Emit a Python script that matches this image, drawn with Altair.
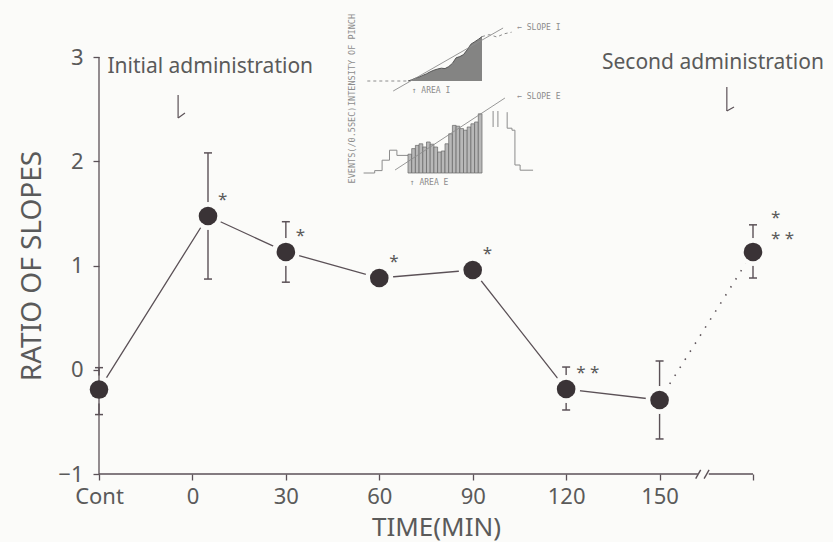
import altair as alt
import pandas as pd

# ---------------- main series ----------------
time_min = [-30, 5, 30, 60, 90, 120, 150, 180]
ratio = [-0.19, 1.475, 1.13, 0.88, 0.957, -0.185, -0.29, 1.13]
err_high = [0.02, 2.08, 1.42, 0.95, 1.03, 0.026, 0.084, 1.39]
err_low = [-0.43, 0.87, 0.84, 0.81, 0.89, -0.386, -0.664, 0.88]
sig_near = ["", "*", "*", "*", "*", "* *", "", ""]
sig_second = ["", "", "", "", "", "", "", "*\n* *"]

x_tick_values = [-30, 0, 30, 60, 90, 120, 150, 180]
x_tick_labels = ["Cont", "0", "30", "60", "90", "120", "150", ""]
y_tick_values = [-1, 0, 1, 2, 3]
x_domain = [-30, 180]
y_domain = [-1, 3]

# axis line with a break
axis_seg_x1 = [-30, 165.8]
axis_seg_x2 = [162.3, 180]
break_x1 = [161.6, 164.3]
break_x2 = [163.2, 165.9]
break_y1 = [-1.045, -1.045]
break_y2 = [-0.96, -0.96]

# annotations
ann_text = ["Initial administration", "Second administration"]
ann_x = [-27.3, 131.5]
ann_y = [2.905, 2.94]
arrow_x = [-4.6, 171.6]
arrow_top = [2.635, 2.712]
arrow_bot = [2.415, 2.482]
barb_x = [-2.4, 173.9]
barb_y = [2.463, 2.52]

# ---------------- inset (schematic) ----------------
pinch_t = [0, 1, 2, 3, 4, 5, 6, 7, 8, 9, 10, 11, 12, 13, 14, 15, 16, 17, 18, 19, 20]
pinch_i = [0, 0.3, 0.7, 1.0, 1.4, 1.8, 2.3, 2.7, 3.0, 3.2, 3.1, 3.6, 4.4, 5.8, 6.1,
           6.6, 7.8, 9.2, 9.8, 10.4, 11.1]
pinch_pre_t = [-11, 0]
pinch_pre_i = [0, 0]
pinch_post_t = [20, 22, 24, 26, 28]
pinch_post_i = [11.1, 11.6, 11.0, 11.8, 12.2]
slope_i_t = [-4, 25.7]
slope_i_v = [-2.5, 13.25]

event_t = list(range(20))
event_n = [4.7, 6.1, 6.9, 7.3, 6.5, 7.75, 7.2, 6.5, 5.25, 5.5, 7.3, 9.8, 11.9, 11.7,
           11.1, 10.7, 11.5, 12.3, 12.75, 14.8]
event_pre_t = [-12, -9, -7, -5, -3, 0]
event_pre_n = [0, 0.6, 3.2, 5.7, 4.4, 4.4]
event_post_t = [26.8, 26.8, 28.1, 28.9, 30.3, 33.8]
event_post_n = [15.2, 11.2, 10.7, 2.0, 0.7, 0.7]
spike_t = [23.0, 24.3]
spike_top = [15.5, 15.5]
spike_bot = [11.5, 11.5]
slope_e_t = [-3.5, 26.2]
slope_e_v = [0.75, 18.75]

inset_top_label = ["INTENSITY OF PINCH"]
inset_top_label_t = [-15.1]
inset_top_label_v = [5.25]
inset_top_notes = ["\u2190 SLOPE I", "\u2191 AREA I"]
inset_top_notes_t = [29.5, 1.0]
inset_top_notes_v = [13.25, -2.5]
inset_bot_label = ["EVENTS(/0.5SEC)"]
inset_bot_label_t = [-15.1]
inset_bot_label_v = [7.0]
inset_bot_notes = ["\u2190 SLOPE E", "\u2191 AREA E"]
inset_bot_notes_t = [29.5, 0.5]
inset_bot_notes_v = [19.0, -2.5]

# ---------------- styling ----------------
BG = "#fbfbf9"
LINE = "#5b5157"
DOT = "#3a3336"
TEXT = "#5a5a5a"
INSET = "#8c8c8c"
FONT = "Noto Sans"
MONO = "DejaVu Sans Mono"

label_expr = " : ".join(
    f"datum.value == {v} ? '{l}'" for v, l in zip(x_tick_values, x_tick_labels)
) + " : datum.label"

axis_x = alt.Axis(
    values=x_tick_values, labelExpr=label_expr, domain=False, grid=False,
    tickSize=6, tickColor=LINE, tickWidth=1.3, labelFontSize=22, labelColor=TEXT,
    labelFont=FONT, labelPadding=6, labelOverlap=False, labelFlush=False,
    title="TIME(MIN)", titleFontSize=26, titleFontWeight="normal", titleColor=TEXT,
    titleFont=FONT, titleX=337, titleY=53, titleAlign="center", titleBaseline="middle",
)
axis_y = alt.Axis(
    values=y_tick_values, domain=False, grid=False, tickSize=6, tickColor=LINE,
    tickWidth=1.3, labelFontSize=22, labelColor=TEXT, labelFont=FONT, labelPadding=10,
    title="RATIO OF SLOPES", titleFontSize=28, titleFontWeight="normal",
    titleColor=TEXT, titleFont=FONT, titleX=-67, titleY=208.5, titleAngle=270,
    titleAlign="center", titleBaseline="middle",
)

xs = alt.Scale(domain=x_domain, nice=False, zero=False)
ys = alt.Scale(domain=y_domain, nice=False, zero=False)


def X(f):
    return alt.X(f, type="quantitative", scale=xs, axis=axis_x)


def Y(f):
    return alt.Y(f, type="quantitative", scale=ys, axis=axis_y)


df = pd.DataFrame({
    "time": time_min, "ratio": ratio, "hi": err_high, "lo": err_low,
    "sig": sig_near, "sig2": sig_second,
})
base = alt.Chart(df)

line_solid = base.transform_filter(alt.datum.time <= 150).mark_line(
    color=LINE, strokeWidth=1.3).encode(x=X("time"), y=Y("ratio"))
line_dot = base.transform_filter(alt.datum.time >= 150).mark_line(
    color=LINE, strokeWidth=1.6, strokeDash=[1.5, 8]).encode(x=X("time"), y=Y("ratio"))
err_rule = base.mark_rule(color=LINE, strokeWidth=1.4).encode(
    x=X("time"), y=Y("lo"), y2="hi")
cap_hi = base.mark_tick(orient="horizontal", size=8, thickness=1.5, color=LINE,
                        opacity=1).encode(x=X("time"), y=Y("hi"))
cap_lo = base.mark_tick(orient="horizontal", size=8, thickness=1.5, color=LINE,
                        opacity=1).encode(x=X("time"), y=Y("lo"))
halo = base.mark_circle(size=780, color=BG, opacity=1).encode(x=X("time"), y=Y("ratio"))

ydom = alt.Chart(pd.DataFrame({"x": [x_domain[0]], "y": [y_domain[0]], "y2": [y_domain[1]]})
                 ).mark_rule(color=LINE, strokeWidth=1.3).encode(x=X("x"), y=Y("y"), y2="y2")
xdom = alt.Chart(pd.DataFrame({"x": axis_seg_x1, "x2": axis_seg_x2, "y": [y_domain[0]] * 2})
                 ).mark_rule(color=LINE, strokeWidth=1.3).encode(x=X("x"), x2="x2", y=Y("y"))
brk = alt.Chart(pd.DataFrame({"x": break_x1, "x2": break_x2, "y": break_y1, "y2": break_y2})
                ).mark_rule(color=LINE, strokeWidth=1.4).encode(
    x=X("x"), x2="x2", y=Y("y"), y2="y2")

points = base.mark_circle(size=346, color=DOT, opacity=1).encode(x=X("time"), y=Y("ratio"))
stars = base.mark_text(align="left", baseline="middle", dx=10, dy=-16, fontSize=17,
                       color=TEXT, font=FONT).encode(x=X("time"), y=Y("ratio"), text="sig")
stars2 = base.mark_text(align="left", baseline="middle", dx=18, dy=-34, fontSize=17,
                        color=TEXT, font=FONT, lineBreak="\n", lineHeight=21).encode(
    x=X("time"), y=Y("ratio"), text="sig2")

ann = alt.Chart(pd.DataFrame({"t": ann_text, "x": ann_x, "y": ann_y})).mark_text(
    align="left", baseline="middle", fontSize=21, color=TEXT, font=FONT).encode(
    x=X("x"), y=Y("y"), text="t")
arr = alt.Chart(pd.DataFrame({"x": arrow_x, "y": arrow_top, "y2": arrow_bot})).mark_rule(
    color=LINE, strokeWidth=1.2).encode(x=X("x"), y=Y("y"), y2="y2")
barb = alt.Chart(pd.DataFrame({"x": arrow_x, "y": arrow_bot, "x2": barb_x, "y2": barb_y})
                 ).mark_rule(color=LINE, strokeWidth=1.2).encode(
    x=X("x"), x2="x2", y=Y("y"), y2="y2")

main = alt.layer(line_solid, line_dot, err_rule, cap_hi, cap_lo, halo, ydom, xdom, brk,
                 points, stars, stars2, ann, arr, barb)

# ---------------- inset layers ----------------
xi = alt.Scale(domain=[-83.51, 93.24], nice=False, zero=False)
yt = alt.Scale(domain=[-98.25, 6], nice=False, zero=False)
yb = alt.Scale(domain=[-75.25, 29], nice=False, zero=False)


def XI(f):
    return alt.X(f, type="quantitative", scale=xi, axis=None)


def YT(f):
    return alt.Y(f, type="quantitative", scale=yt, axis=None)


def YB(f):
    return alt.Y(f, type="quantitative", scale=yb, axis=None)


pinch_area = alt.Chart(pd.DataFrame({"t": pinch_t, "v": pinch_i})).mark_area(
    color="#6e6e6e", opacity=0.85, line={"color": "#555", "strokeWidth": 1}).encode(
    x=XI("t"), y=YT("v"), y2=alt.datum(0))
pinch_pre = alt.Chart(pd.DataFrame({"t": pinch_pre_t, "v": pinch_pre_i})).mark_line(
    color=INSET, strokeWidth=1, strokeDash=[3, 3]).encode(x=XI("t"), y=YT("v"))
pinch_post = alt.Chart(pd.DataFrame({"t": pinch_post_t, "v": pinch_post_i})).mark_line(
    color=INSET, strokeWidth=1, strokeDash=[3, 3]).encode(x=XI("t"), y=YT("v"))
slope_i = alt.Chart(pd.DataFrame({"t": slope_i_t, "v": slope_i_v})).mark_line(
    color=INSET, strokeWidth=0.9).encode(x=XI("t"), y=YT("v"))
top_lab = alt.Chart(pd.DataFrame({"s": inset_top_label, "t": inset_top_label_t,
                                  "v": inset_top_label_v})).mark_text(
    baseline="middle", align="center", angle=270, fontSize=8.5, font=MONO, color=INSET
).encode(x=XI("t"), y=YT("v"), text="s")
top_notes = alt.Chart(pd.DataFrame({"s": inset_top_notes, "t": inset_top_notes_t,
                                    "v": inset_top_notes_v})).mark_text(
    baseline="middle", align="left", fontSize=8, font=MONO, color=INSET
).encode(x=XI("t"), y=YT("v"), text="s")

inset_top = alt.layer(pinch_pre, pinch_area, pinch_post, slope_i, top_lab, top_notes)

ev_df = pd.DataFrame({"t": event_t, "n": event_n})
ev_df["t2"] = ev_df["t"] + 1
bars = alt.Chart(ev_df).mark_bar(color="#b8b8b8", stroke="#666", strokeWidth=0.7).encode(
    x=XI("t"), x2="t2", y=YB("n"), y2=alt.datum(0))
ev_pre = alt.Chart(pd.DataFrame({"t": event_pre_t, "n": event_pre_n})).mark_line(
    color=INSET, strokeWidth=1, interpolate="step-after").encode(x=XI("t"), y=YB("n"))
ev_post = alt.Chart(pd.DataFrame({"t": event_post_t, "n": event_post_n})).mark_line(
    color=INSET, strokeWidth=1, interpolate="step-after").encode(x=XI("t"), y=YB("n"))
spikes = alt.Chart(pd.DataFrame({"t": spike_t, "a": spike_bot, "b": spike_top})).mark_rule(
    color=INSET, strokeWidth=1).encode(x=XI("t"), y=YB("a"), y2="b")
slope_e = alt.Chart(pd.DataFrame({"t": slope_e_t, "v": slope_e_v})).mark_line(
    color=INSET, strokeWidth=0.9).encode(x=XI("t"), y=YB("v"))
bot_lab = alt.Chart(pd.DataFrame({"s": inset_bot_label, "t": inset_bot_label_t,
                                  "v": inset_bot_label_v})).mark_text(
    baseline="middle", align="center", angle=270, fontSize=8.5, font=MONO, color=INSET
).encode(x=XI("t"), y=YB("v"), text="s")
bot_notes = alt.Chart(pd.DataFrame({"s": inset_bot_notes, "t": inset_bot_notes_t,
                                    "v": inset_bot_notes_v})).mark_text(
    baseline="middle", align="left", fontSize=8, font=MONO, color=INSET
).encode(x=XI("t"), y=YB("v"), text="s")

inset_bot = alt.layer(ev_pre, bars, ev_post, spikes, slope_e, bot_lab, bot_notes)

chart = alt.layer(main, inset_top, inset_bot).resolve_scale(
    x="independent", y="independent"
).properties(
    width=654, height=417, background=BG,
    autosize=alt.AutoSizeParams(type="none"),
    padding={"left": 99, "top": 57, "right": 80, "bottom": 68},
).configure_view(stroke=None)

chart.save("out.html", embed_options={"renderer": "svg", "actions": False})
